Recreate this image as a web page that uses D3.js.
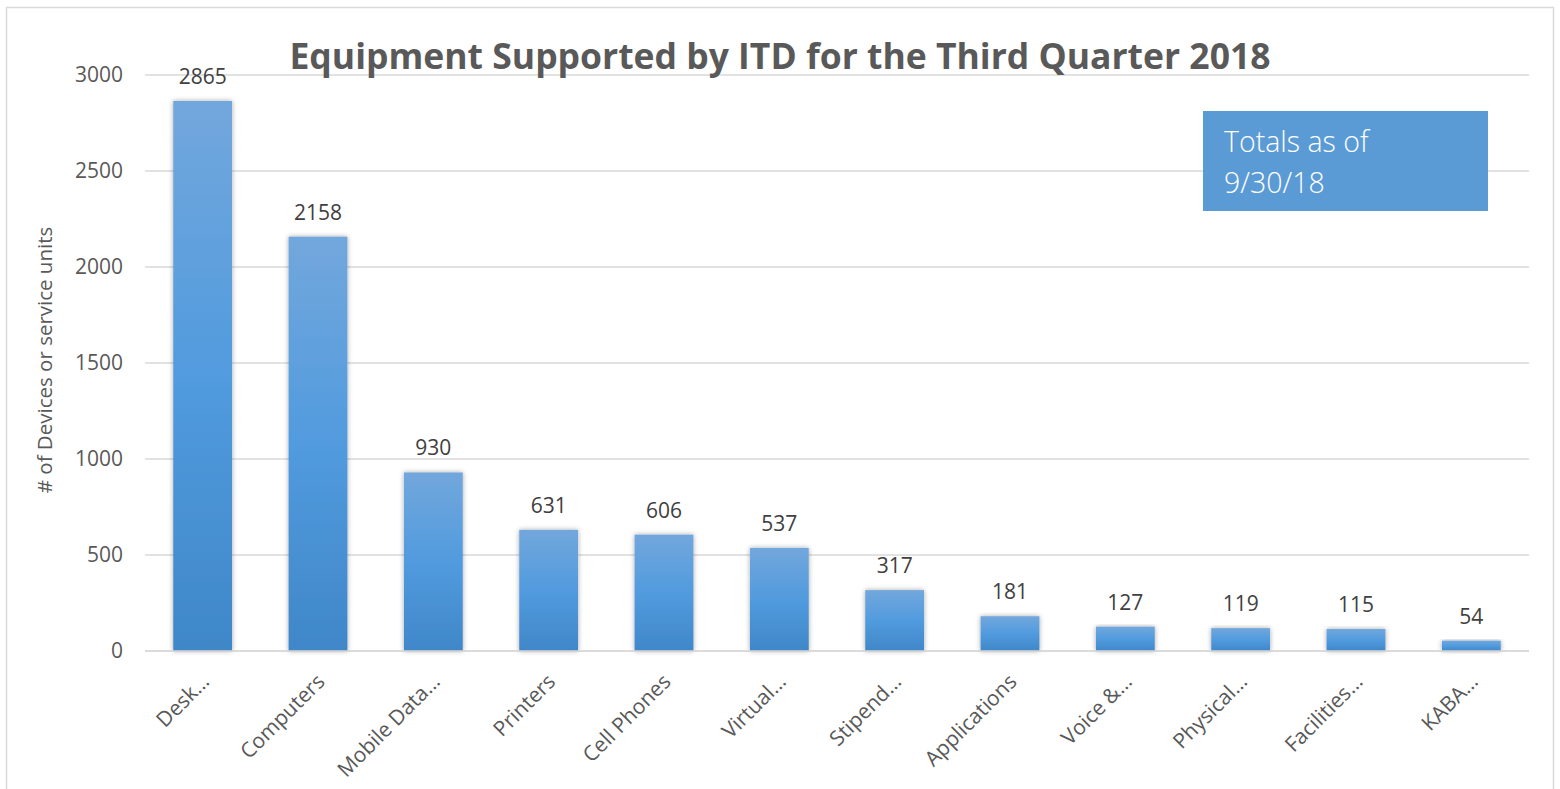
<!DOCTYPE html>
<html><head><meta charset="utf-8">
<script src="https://cdn.jsdelivr.net/npm/d3@7"></script>
<style>body{margin:0;background:#fff;}svg{display:block;font-family:"Open Sans",sans-serif;}</style>
</head><body><svg id="c" width="1560" height="789"></svg>
<script>
const categories = ["Desk…","Computers","Mobile Data…","Printers","Cell Phones","Virtual…","Stipend…","Applications","Voice &…","Physical…","Facilities…","KABA…"];
const values = [2865,2158,930,631,606,537,317,181,127,119,115,54];
const yTicks = [0,500,1000,1500,2000,2500,3000];
const title = "Equipment Supported by ITD for the Third Quarter 2018";
const yTitle = "# of Devices or service units";
const noteLines = ["Totals as of","9/30/18"];

const svg = d3.select("#c");
const defs = svg.append("defs");
const g1 = defs.append("linearGradient").attr("id","bg").attr("x1",0).attr("y1",0).attr("x2",0).attr("y2",1);
g1.append("stop").attr("offset","0%").attr("stop-color","#72a7dc");
g1.append("stop").attr("offset","50%").attr("stop-color","#519bde");
g1.append("stop").attr("offset","100%").attr("stop-color","#3f87c8");
const f = defs.append("filter").attr("id","sh").attr("x","-30%").attr("y","-10%").attr("width","160%").attr("height","130%");
f.append("feDropShadow").attr("dx",0).attr("dy",0).attr("stdDeviation",2.5).attr("flood-color","#000").attr("flood-opacity",0.35);

svg.append("rect").attr("x",6.5).attr("y",7.5).attr("width",1547).attr("height",790).attr("fill","#fff").attr("stroke","#d9d9d9").attr("stroke-width",1.5);

const x = d3.scaleBand().domain(categories).range([145,1529]).paddingInner(0.49).paddingOuter(0.245);
const y = d3.scaleLinear().domain([0,3000]).range([651,75]);

const grid = svg.append("g");
grid.selectAll("line").data(yTicks).join("line")
  .attr("x1",145).attr("x2",1529).attr("y1",d=>y(d)).attr("y2",d=>y(d))
  .attr("stroke","#d9d9d9").attr("stroke-width",1.5);

const yAxis = svg.append("g").attr("transform","translate(145,0)")
  .call(d3.axisLeft(y).tickValues(yTicks).tickSize(0).tickPadding(22).tickFormat(d3.format("d")));
yAxis.select(".domain").remove();
yAxis.selectAll("text").attr("font-size",21).attr("fill","#595959").attr("font-family","Open Sans");

svg.append("g").selectAll("rect").data(values).join("rect")
  .attr("x",(d,i)=>x(categories[i])).attr("width",x.bandwidth())
  .attr("y",d=>y(d)).attr("height",d=>y(0)-y(d))
  .attr("fill","url(#bg)").attr("filter","url(#sh)");

svg.append("line").attr("x1",145).attr("x2",1529).attr("y1",y(0)).attr("y2",y(0)).attr("stroke","#d9d9d9").attr("stroke-width",1.5);

svg.append("g").selectAll("text").data(values).join("text")
  .attr("x",(d,i)=>x(categories[i])+x.bandwidth()/2).attr("y",d=>y(d)-17)
  .attr("text-anchor","middle").attr("font-size",21).attr("fill","#404040").text(d=>d);

const xAxis = svg.append("g").attr("transform",`translate(0,${y(0)})`)
  .call(d3.axisBottom(x).tickSize(0).tickPadding(0));
xAxis.select(".domain").remove();
xAxis.selectAll("text")
  .attr("font-size",21).attr("fill","#595959").attr("font-family","Open Sans")
  .attr("text-anchor","end").attr("dy",0).attr("y",0)
  .attr("transform","translate(8,32) rotate(-45)");

svg.append("text").attr("x",780).attr("y",69).attr("text-anchor","middle")
  .attr("font-size",35.5).attr("font-weight","bold").attr("fill","#595959").text(title);

svg.append("text").attr("transform","translate(52,360) rotate(-90)").attr("text-anchor","middle")
  .attr("font-size",20.5).attr("fill","#595959").text(yTitle);

svg.append("rect").attr("x",1203).attr("y",111).attr("width",285).attr("height",100).attr("fill","#5b9bd5");
svg.append("g").selectAll("text").data(noteLines).join("text")
  .attr("x",1224).attr("y",(d,i)=>152+i*41).attr("font-size",28.5).attr("font-weight",300)
  .attr("fill","#fff").text(d=>d);
</script></body></html>
